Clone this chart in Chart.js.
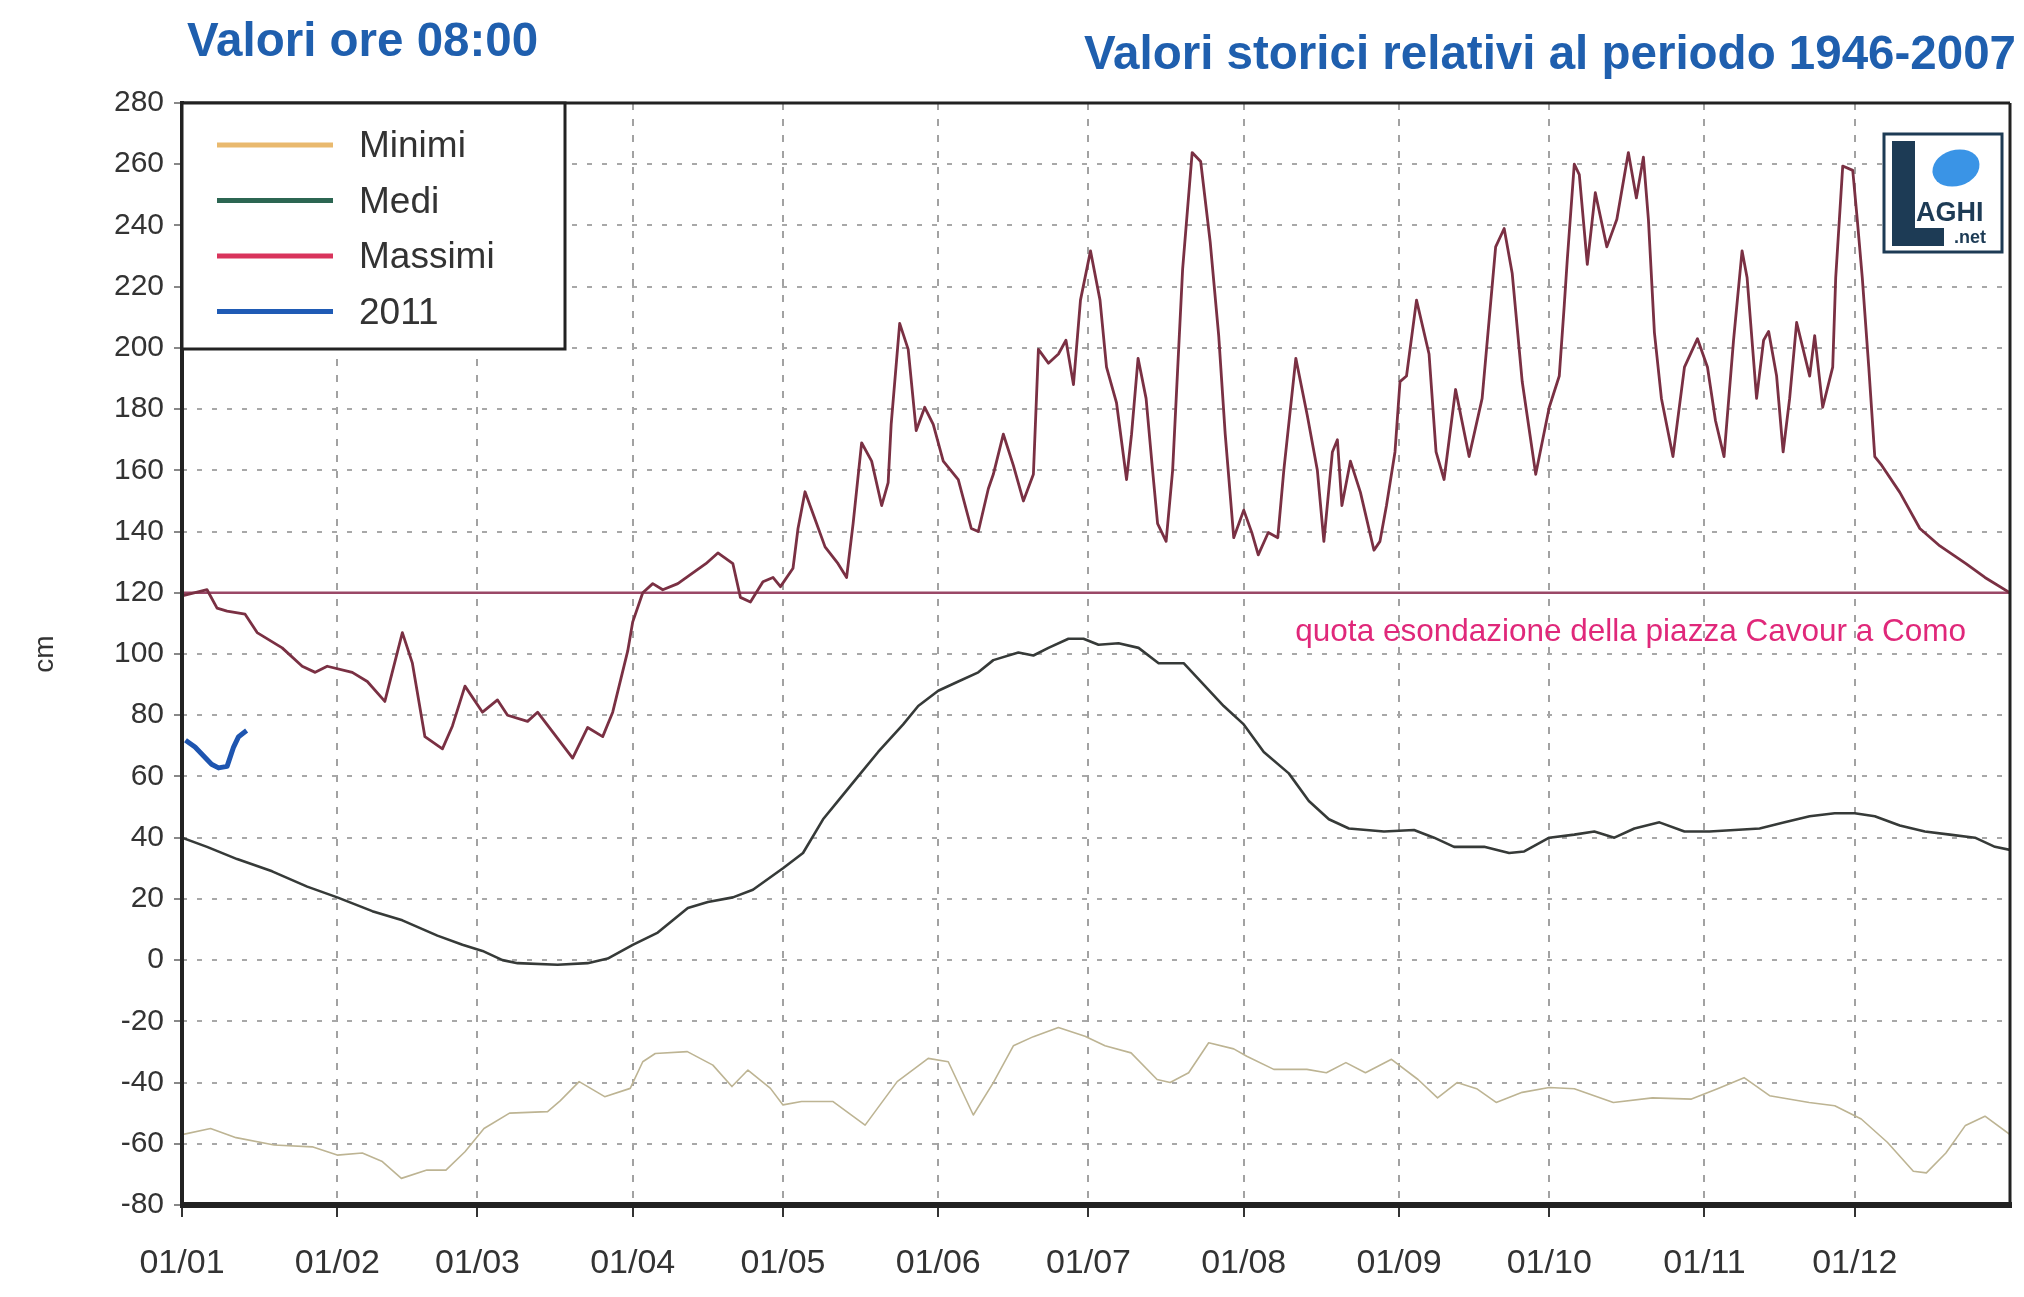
<!DOCTYPE html>
<html>
<head>
<meta charset="utf-8">
<script src="https://cdn.jsdelivr.net/npm/chart.js@4.4.1/dist/chart.umd.min.js"></script>
<style>
  html, body { margin: 0; padding: 0; background: #fff; }
  #wrap { position: relative; width: 2024px; height: 1297px; }
  .title {
    position: absolute;
    font-family: "Liberation Sans", Arial, sans-serif;
    font-weight: bold;
    font-size: 47.5px;
    line-height: 1;
    color: #1f5fae;
    white-space: nowrap;
  }
  #titleLeft { left: 187px; top: 16px; }
  #titleRight { right: 8px; top: 29px; }
</style>
</head>
<body>
<div id="wrap">
  <canvas id="lakeChart" width="2024" height="1297"></canvas>
  <div class="title" id="titleLeft">Valori ore 08:00</div>
  <div class="title" id="titleRight">Valori storici relativi al periodo 1946-2007</div>
</div>
<script>
// Axis data
const monthStarts = [0, 31, 59, 90, 120, 151, 181, 212, 243, 273, 304, 334];
const monthLabels = ["01/01", "01/02", "01/03", "01/04", "01/05", "01/06",
  "01/07", "01/08", "01/09", "01/10", "01/11", "01/12"];
const floodLevel = 120;
const floodLabel = "quota esondazione della piazza Cavour a Como";

// Series: [day of year, cm]
const minimi = [
  [0, -57], [5.7, -55], [10.8, -58], [18.4, -60.4], [26, -61], [31, -63.7], [36, -63],
  [40, -65.8], [43.8, -71.3], [48.9, -68.6], [52.7, -68.6], [56.5, -62.6], [60.3, -55],
  [65.4, -50], [73, -49.5], [75.5, -46], [79.3, -39.7], [84.4, -44.6], [89.5, -41.9],
  [92, -33.2], [94.5, -30.5], [100.9, -29.9], [106, -34.3], [109.8, -41.3], [113, -35.9],
  [117.5, -41.9], [120, -47.3], [123.7, -46.2], [130, -46.2], [136.4, -53.9], [142.8, -39.7],
  [149, -32.1], [153, -33.2], [158, -50.6], [162, -40], [166, -28], [170, -25], [175, -22],
  [180.3, -24.9], [184.3, -28], [189.5, -30.3], [194.7, -39], [197.3, -40], [201, -36.8],
  [205, -27], [210, -29], [212.6, -31.4], [218, -35.7], [224.6, -35.7], [228.5, -36.8],
  [232.4, -33.5], [236.3, -36.8], [241.5, -32.4], [246.8, -39], [250.7, -45], [254.6, -40],
  [258.5, -42], [262.4, -46.5], [267.6, -43.2], [273, -41.6], [278, -42], [285.8, -46.5],
  [293.6, -45], [301.4, -45.4], [306.6, -42], [311.9, -38.4], [317, -44.3], [324.9, -46.5],
  [330, -47.6], [335.3, -51.9], [340.5, -59.5], [345.7, -69], [348.3, -69.5], [352.2, -63],
  [356.1, -54], [360, -51], [365, -57]
];

const medi = [
  [0, 40], [5, 37], [11, 33], [18, 29], [25, 24], [31, 20.5], [38, 16], [44, 13], [51, 8],
  [56, 5], [60, 3], [64, 0], [67, -1], [75, -1.5], [81, -1], [85, 0.5], [90, 5], [95, 9],
  [101, 17], [105, 19], [110, 20.5], [114, 23], [120, 30], [124, 35], [128, 46], [131, 52],
  [135, 60], [139, 68], [144, 77], [147, 83], [151, 88], [155, 91], [159, 94], [162, 98],
  [167, 100.5], [170, 99.5], [173, 102], [177, 105], [180, 105], [183, 103], [187, 103.5],
  [191, 102], [195, 97], [200, 97], [204, 90], [208, 83], [212, 77], [216, 68], [221, 61],
  [225, 52], [229, 46], [233, 43], [240, 42], [246, 42.5], [250, 40], [254, 37], [260, 37],
  [265, 35], [268, 35.5], [273, 40], [278, 41], [282, 42], [286, 40], [290, 43], [295, 45],
  [300, 42], [305, 42], [310, 42.5], [315, 43], [320, 45], [325, 47], [330, 48], [334, 48],
  [338, 47], [343, 44], [348, 42], [353, 41], [358, 40], [362, 37], [365, 36]
];

const massimi = [
  [0, 119], [5, 121], [7, 115], [9, 114], [12.6, 113], [15, 107], [20, 102], [24, 96],
  [26.6, 94], [29, 96], [34, 94], [37, 91], [40.5, 84.5], [44, 107], [46, 97], [48.5, 73],
  [52, 69], [54, 76.5], [56.5, 89.5], [60, 81], [63, 85], [65, 80], [69, 78], [71, 81],
  [78, 66], [81, 76], [84, 73], [86, 81], [89, 101], [90, 110.5], [92, 120], [94, 123],
  [96, 121], [99, 123], [102, 126.5], [104.6, 129.5], [107, 133], [110, 129.5], [111.5, 118.5],
  [113.5, 117], [116, 123.6], [118, 125], [119.5, 122], [122, 128], [123, 141], [124.4, 153],
  [126.4, 144], [128.4, 135], [131, 129.5], [132.7, 125], [134, 142.6], [135.7, 169],
  [137.7, 163], [139.7, 148.5], [141, 156], [141.6, 175], [143.3, 208], [145, 199.5],
  [146.6, 173], [148.3, 180.6], [150, 175], [152, 163], [155, 157], [157.6, 141], [159, 140],
  [161, 154], [162, 158.7], [164, 171.8], [166, 161.6], [168, 150], [170, 158.7], [171, 199.5],
  [173, 195], [175, 198], [176.5, 202.5], [178, 188], [179.4, 215.6], [181.4, 231.7],
  [183.3, 215.6], [184.6, 193.7], [186.6, 182], [188.6, 157], [189.6, 171.8], [190.9, 196.6],
  [192.5, 183.5], [193.8, 160], [194.8, 142.6], [196.5, 136.8], [197.8, 160], [199.8, 225.8],
  [201.7, 263.8], [203.4, 260.9], [205.3, 234.6], [207, 204], [208.3, 171.8], [210, 138],
  [212, 147], [213.6, 139.7], [214.9, 132.4], [216.9, 139.7], [218.8, 138], [220, 160],
  [222.4, 196.6], [224.7, 177.8], [226.7, 160], [228, 136.8], [229.7, 166], [230.7, 170],
  [231.6, 148.5], [233.3, 163], [235.3, 152.8], [238, 133.9], [239.2, 136.8], [240.5, 148.5],
  [242.2, 166], [243.2, 189], [244.5, 190.8], [246.5, 215.6], [249, 198], [250.4, 166],
  [252, 157], [254.3, 186.4], [257, 164.5], [259.6, 183.5], [262.3, 233], [264, 239],
  [265.6, 224.4], [267.6, 189], [270.3, 158.7], [273, 180.6], [275, 190.8], [276, 214],
  [276.6, 228.8], [278, 260], [279, 256.6], [280.6, 227.3], [282.2, 250.7], [284.5, 233],
  [286.5, 242], [288.8, 263.8], [290.4, 249], [291.8, 262.3], [292.8, 242], [294, 205],
  [295.4, 183.5], [297.7, 164.5], [300, 193.7], [302.6, 203], [304.6, 193.7], [306.2, 176.2],
  [307.9, 164.5], [309.8, 202.5], [311.5, 231.7], [312.5, 223], [314.4, 183.5], [315.8, 202.5],
  [316.8, 205.4], [318.4, 190.8], [319.7, 166], [321, 183.5], [322.4, 208.3], [325, 190.8],
  [326, 204], [327.6, 180.6], [329.6, 193.7], [330.2, 223], [331.6, 259.4], [333.6, 258],
  [334.5, 242], [335.5, 223], [336.8, 193.7], [338, 164.5], [339.4, 161.6], [343, 152.8],
  [347, 141], [351, 135.3], [356.2, 129.5], [360, 125], [365, 120]
];

const anno2011 = [
  [0.7, 71.8], [2.6, 69.6], [5.9, 64], [7.3, 62.8], [9, 63.3], [10.3, 69.6], [11.3, 73], [12.9, 75]
];

const toPoints = (series) => series.map(([x, y]) => ({ x, y }));

const textFamily = "'Liberation Sans', Arial, sans-serif";

// Datasets (legend order), lower "order" is drawn on top
const datasets = [
  { label: "Minimi", data: toPoints(minimi), borderColor: "#bdb493", legendColor: "#e9b96e", borderWidth: 1.6, order: 4 },
  { label: "Medi", data: toPoints(medi), borderColor: "#363a38", legendColor: "#2c6652", borderWidth: 2.6, order: 3 },
  { label: "Massimi", data: toPoints(massimi), borderColor: "#7a3043", legendColor: "#d9345c", borderWidth: 2.8, order: 2 },
  { label: "2011", data: toPoints(anno2011), borderColor: "#1e55b0", legendColor: "#1f5bb5", borderWidth: 5, order: 1 },
  { label: "soglia", data: toPoints([[0, floodLevel], [365, floodLevel]]), borderColor: "#9a4867", borderWidth: 2.5, order: 5, hideInLegend: true },
];

// Frame, legend box, flood label and logo
const decorations = {
  id: "decorations",
  afterDraw(chart) {
    const { ctx, chartArea: a, scales: { y } } = chart;
    ctx.save();

    // flood label
    ctx.font = `31.5px ${textFamily}`;
    ctx.fillStyle = "#e0287a";
    ctx.textAlign = "right";
    ctx.textBaseline = "middle";
    ctx.fillText(floodLabel, a.right - 44, y.getPixelForValue(floodLevel) + 40);

    // chart frame
    ctx.strokeStyle = "#222";
    const line = (x1, y1, x2, y2, w) => {
      ctx.lineWidth = w;
      ctx.beginPath();
      ctx.moveTo(x1, y1);
      ctx.lineTo(x2, y2);
      ctx.stroke();
    };
    line(a.left, a.top, a.right, a.top, 3);
    line(a.right, a.top, a.right, a.bottom, 3);
    line(a.left, a.top - 2, a.left, a.bottom + 3, 4);
    line(a.left, a.bottom, a.right + 2, a.bottom, 6);

    // legend box
    const boxW = 383, boxH = 246;
    ctx.fillStyle = "#fff";
    ctx.fillRect(a.left, a.top, boxW, boxH);
    ctx.lineWidth = 3;
    ctx.strokeRect(a.left, a.top, boxW, boxH);
    ctx.font = `37px ${textFamily}`;
    ctx.textAlign = "left";
    chart.data.datasets.filter((d) => !d.hideInLegend).forEach((d, i) => {
      const rowY = a.top + 42 + i * 55.5;
      ctx.strokeStyle = d.legendColor;
      ctx.lineWidth = 5;
      ctx.beginPath();
      ctx.moveTo(a.left + 35, rowY);
      ctx.lineTo(a.left + 151, rowY);
      ctx.stroke();
      ctx.fillStyle = "#333";
      ctx.fillText(d.label, a.left + 177, rowY + 2);
    });

    // LAGHI.net logo
    const lx = a.right - 126, ly = a.top + 31;
    ctx.fillStyle = "#fff";
    ctx.fillRect(lx, ly, 118, 118);
    ctx.strokeStyle = "#1d3b55";
    ctx.lineWidth = 3;
    ctx.strokeRect(lx, ly, 118, 118);
    ctx.fillStyle = "#1d3b55";
    ctx.fillRect(lx + 8, ly + 7, 23, 105);
    ctx.fillRect(lx + 8, ly + 94, 52, 18);
    ctx.fillStyle = "#3a94e6";
    ctx.beginPath();
    ctx.ellipse(lx + 72, ly + 34, 24, 18, -0.3, 0, Math.PI * 2);
    ctx.fill();
    ctx.fillStyle = "#1d3b55";
    ctx.font = `bold 27px ${textFamily}`;
    ctx.fillText("AGHI", lx + 32, ly + 80);
    ctx.font = `bold 18px ${textFamily}`;
    ctx.fillText(".net", lx + 70, ly + 104);

    ctx.restore();
  },
};

new Chart(document.getElementById("lakeChart"), {
  type: "line",
  data: { datasets },
  options: {
    responsive: false,
    animation: false,
    layout: { padding: { top: 103, right: 14, bottom: 0, left: 0 } },
    elements: {
      point: { radius: 0 },
      line: { tension: 0, borderJoinStyle: "round", fill: false },
    },
    plugins: {
      legend: { display: false },
      tooltip: { enabled: false },
    },
    scales: {
      x: {
        type: "linear",
        min: 0,
        max: 365,
        afterBuildTicks: (axis) => {
          axis.ticks = monthStarts.map((value) => ({ value }));
        },
        afterFit: (axis) => {
          axis.height = 92;
        },
        ticks: {
          autoSkip: false,
          maxRotation: 0,
          padding: 26,
          color: "#333",
          font: { family: textFamily, size: 34 },
          callback: (value, index) => monthLabels[index],
        },
        grid: {
          color: "#a2a2a2",
          lineWidth: 2,
          tickLength: 12,
          tickColor: "#333",
          tickWidth: 2,
          tickBorderDash: [],
        },
        border: { display: false, dash: [7, 9] },
      },
      y: {
        min: -80,
        max: 280,
        afterFit: (axis) => {
          axis.width = 182;
        },
        ticks: {
          stepSize: 20,
          padding: 10,
          color: "#333",
          font: { family: textFamily, size: 30 },
        },
        grid: {
          color: "#a8a8a8",
          lineWidth: 2,
          tickLength: 8,
          tickColor: "#888",
          tickBorderDash: [],
        },
        border: { display: false, dash: [5, 10] },
        title: {
          display: true,
          text: "cm",
          color: "#333",
          font: { family: textFamily, size: 28 },
          padding: { top: 28, bottom: 0 },
        },
      },
    },
  },
  plugins: [decorations],
});
</script>
</body>
</html>
